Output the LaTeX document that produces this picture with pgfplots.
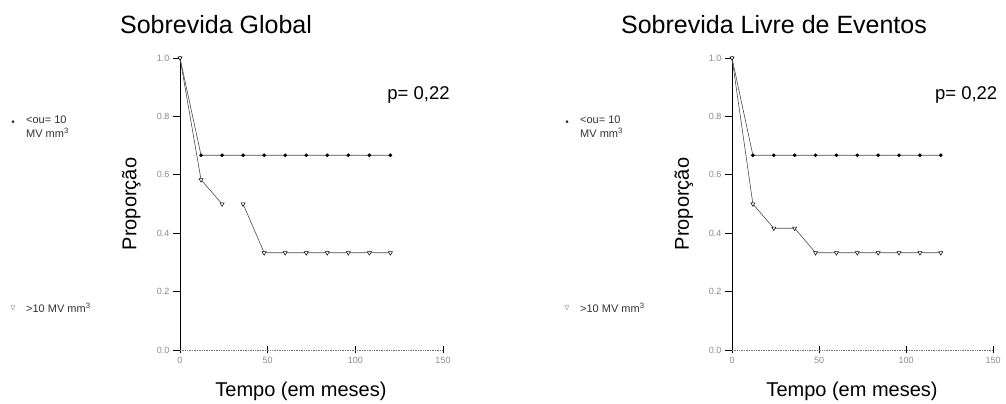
\documentclass[border=0pt]{standalone}
\usepackage{amssymb}
\usepackage{pgfplots}
\pgfplotsset{compat=1.18}
\usepackage{fontspec}
\setmainfont{Liberation Sans}
\begin{document}
\begin{tikzpicture}[x=1pt,y=1pt]
\path[use as bounding box] (0pt,0pt) rectangle (1006pt,404pt);
\pgfplotsset{km/.style={
  scale only axis, height=292pt,
  xmin=0, xmax=150, ymin=0, ymax=1,
  axis x line=bottom, axis y line=left,
  axis line style={-},
  x axis line style={black!55, densely dotted, line width=0.7pt},
  y axis line style={black, line width=0.9pt},
  xtick={0,50,100,150}, ytick={0,0.2,0.4,0.6,0.8,1.0},
  xtick align=center, ytick align=outside,
  major tick length=7pt,
  every tick/.style={black, line width=0.7pt},
  /pgf/number format/assume math mode=true,
  tick label style={font=\fontsize{9}{9}\selectfont, text=black!45},
  yticklabel style={/pgf/number format/fixed, /pgf/number format/fixed zerofill, /pgf/number format/precision=1},
  xlabel={Tempo (em meses)}, ylabel={Proporção},
  label style={font=\fontsize{20}{20}\selectfont},
  xlabel style={at={(axis description cs:0.46,-0.142)}, anchor=center},
  ylabel style={at={(axis description cs:-0.185,0.5)}, anchor=center, rotate=0},
  title style={font=\fontsize{25}{25}\selectfont, anchor=center},
  clip=false,
  upper/.style={black!70, line width=0.6pt, mark=*, mark size=1.5pt, mark options={solid, black, fill=black}},
  lower/.style={black!70, line width=0.6pt, mark=triangle*, mark size=2.4pt, mark options={solid, black, fill=white, rotate=180, line width=0.5pt}},
  unbounded coords=jump,
}}
\begin{axis}[km, at={(180pt,54pt)}, anchor=south west, width=263pt,
  title={Sobrevida Global}, title style={at={(axis description cs:0.137,1.093)}}]
\addplot[upper] coordinates {(0,1.0) (12,0.667) (24,0.667) (36,0.667) (48,0.667) (60,0.667) (72,0.667) (84,0.667) (96,0.667) (108,0.667) (120,0.667)};
\addplot[lower] coordinates {(0,1.0) (12,0.583) (24,0.5) (30,nan) (36,0.5) (48,0.333) (60,0.333) (72,0.333) (84,0.333) (96,0.333) (108,0.333) (120,0.333)};
\node[anchor=center, font=\fontsize{18.5}{18.5}\selectfont] at (axis description cs:0.907,0.873) {p= 0,22};
\end{axis}
\begin{axis}[km, at={(732pt,54pt)}, anchor=south west, width=261pt,
  title={Sobrevida Livre de Eventos}, title style={at={(axis description cs:0.161,1.093)}}]
\addplot[upper] coordinates {(0,1.0) (12,0.667) (24,0.667) (36,0.667) (48,0.667) (60,0.667) (72,0.667) (84,0.667) (96,0.667) (108,0.667) (120,0.667)};
\addplot[lower] coordinates {(0,1.0) (12,0.5) (24,0.417) (36,0.417) (48,0.333) (60,0.333) (72,0.333) (84,0.333) (96,0.333) (108,0.333) (120,0.333)};
\node[anchor=east, font=\fontsize{18.5}{18.5}\selectfont] at (axis description cs:1.03,0.873) {p= 0,22};
\end{axis}
% legends
\foreach \lx in {13,567} {
  \node[font=\fontsize{10}{10}\selectfont, text=black!80] at (\lx pt,281pt) {\textbullet};
  \node[font=\fontsize{8}{8}\selectfont, text=black!70] at (\lx pt,96pt) {$\triangledown$};
  \node[anchor=north west, align=left, font=\fontsize{11}{13.5}\selectfont, text=black!80, inner sep=0pt] at (\lx pt+13pt,288pt) {<ou= 10\\MV mm\textsuperscript{3}};
  \node[anchor=west, font=\fontsize{11}{13}\selectfont, text=black!80, inner sep=0pt] at (\lx pt+13pt,96pt) {>10 MV mm\textsuperscript{3}};
}
\end{tikzpicture}
\end{document}
